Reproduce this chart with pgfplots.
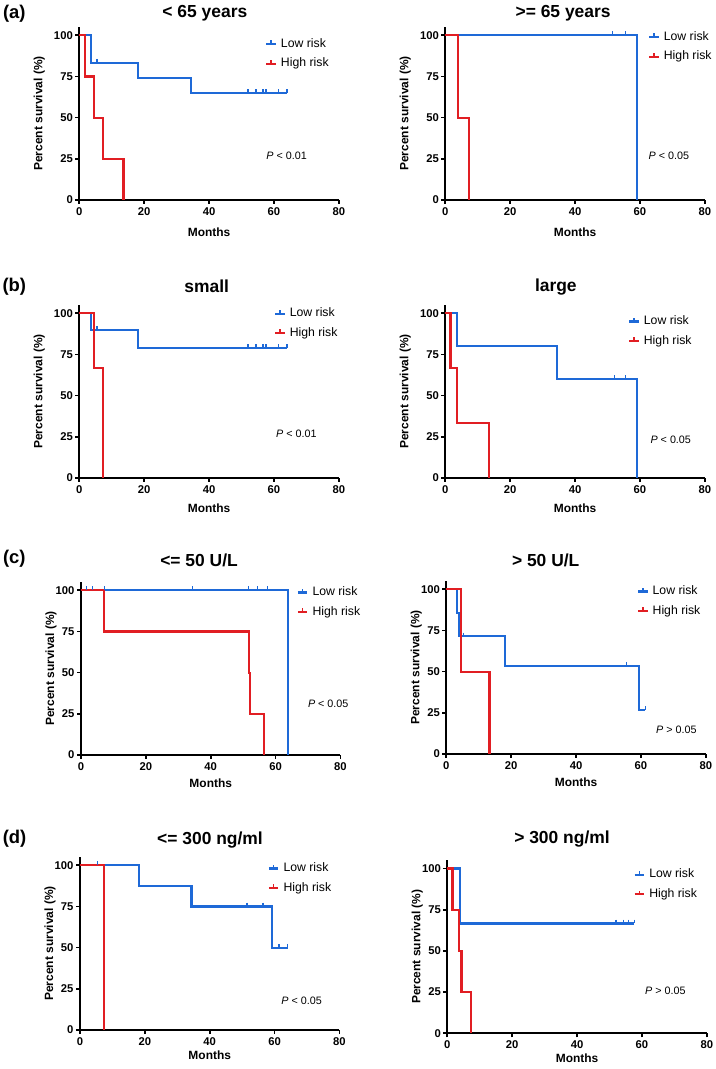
\documentclass[border=0pt]{standalone}
\usepackage{fontspec}
\setmainfont{Liberation Sans}
\usepackage{pgfplots}
\pgfplotsset{compat=1.18}
\definecolor{kmblue}{RGB}{30,105,215}
\definecolor{kmred}{RGB}{225,30,35}
\tikzset{
  ttl/.style={font=\bfseries\fontsize{17.5}{20}\selectfont},
  pval/.style={anchor=west, font=\fontsize{10.8}{12}\selectfont},
}
\pgfplotsset{
  km/.style={
    scale only axis, width=259.5bp, height=173bp,
    xmin=0, xmax=80, ymin=0, ymax=105,
    axis lines*=left,
    axis line style={line width=2bp, black, -},
    xtick={0,20,40,60,80}, ytick={0,25,50,75,100},
    tick align=outside, major tick length=4bp,
    every tick/.style={line width=1.7bp, black},
    /pgf/number format/assume math mode=true,
    ticklabel style={font=\bfseries\fontsize{11.3}{12}\selectfont},
    yticklabel style={xshift=1bp},
    xlabel={Months}, ylabel={Percent survival (\%)},
    label style={font=\bfseries\fontsize{12}{14}\selectfont},
    legend cell align=left,
    legend style={draw=none, fill=none, anchor=north west, inner sep=0pt, row sep=7.5bp, column sep=4bp,
      font=\fontsize{12.3}{14}\selectfont, nodes={inner sep=0pt, text height=9bp, text depth=3bp}},
    legend image code/.code={\draw[#1, line width=2.2bp] (0bp,0bp) -- (9.5bp,0bp); \draw[#1, line width=1.6bp] (4.75bp,0bp) -- (4.75bp,3.8bp);},
    clip=false,
  },
  curve/.style={const plot, line width=2.2bp, mark=none},
  cens/.style={only marks, mark=|, mark size=1.9bp, mark options={yshift=1.9bp, line width=1.6bp}},
}
\newcommand{\kmlegend}{\addlegendimage{kmblue}\addlegendentry{Low risk}\addlegendimage{kmred}\addlegendentry{High risk}}
\begin{document}
\begin{tikzpicture}
\useasboundingbox (0,0) rectangle (716bp,1069bp);
\node[font=\bfseries\fontsize{18.5}{20}\selectfont] at (14.3bp,1055.5bp) {(a)};
\node[font=\bfseries\fontsize{18.5}{20}\selectfont] at (14.3bp,782bp) {(b)};
\node[font=\bfseries\fontsize{18.5}{20}\selectfont] at (14.3bp,510bp) {(c)};
\node[font=\bfseries\fontsize{18.5}{20}\selectfont] at (14.6bp,230.5bp) {(d)};

% (a) left
\begin{axis}[km, at={(79.3bp,869bp)}, anchor=south west,
  xlabel style={at={(axis description cs:0.5,-0.185)}, anchor=center},
  ylabel style={at={(axis description cs:-0.154,0.5)}, anchor=center},
  legend style={at={(axis description cs:0.716,0.936)}}]
\kmlegend
\addplot[curve, kmblue, forget plot] coordinates {(0,100) (3.6,83.3) (18.2,74.07) (34.4,64.8) (64,64.8)};
\addplot[cens, kmblue, forget plot] coordinates {(5.5,83.3) (52,64.8) (54.5,64.8) (56.7,64.8) (57.5,64.8) (61.4,64.8) (64,64.8)};
\addplot[curve, kmred, forget plot] coordinates {(0,100) (1.75,75) (4.6,50) (7.3,25) (13.6,0)};
\node[ttl] at (axis description cs:0.484,1) [yshift=14bp] {< 65 years};
\node[pval] at (axis cs:56.6,26.8) {\textit{P} < 0.01};
\end{axis}

% (a) right
\begin{axis}[km, at={(445.3bp,869bp)}, anchor=south west,
  xlabel style={at={(axis description cs:0.5,-0.185)}, anchor=center},
  ylabel style={at={(axis description cs:-0.154,0.5)}, anchor=center},
  legend style={at={(axis description cs:0.781,0.977)}}]
\kmlegend
\addplot[curve, kmblue, forget plot] coordinates {(0,100) (59.2,0)};
\addplot[cens, kmblue, forget plot] coordinates {(51.6,100) (55.5,100)};
\addplot[curve, kmred, forget plot] coordinates {(0,100) (3.9,50) (7.3,0)};
\node[ttl] at (axis description cs:0.454,1) [yshift=14bp] {>= 65 years};
\node[pval] at (axis cs:61.6,27) {\textit{P} < 0.05};
\end{axis}

% (b) left
\begin{axis}[km, at={(79.3bp,591bp)}, anchor=south west,
  xlabel style={at={(axis description cs:0.5,-0.173)}, anchor=center},
  ylabel style={at={(axis description cs:-0.154,0.5)}, anchor=center},
  legend style={at={(axis description cs:0.750,0.985)}}]
\kmlegend
\addplot[curve, kmblue, forget plot] coordinates {(0,100) (3.6,90) (18.2,78.75) (64,78.75)};
\addplot[cens, kmblue, forget plot] coordinates {(5.5,90) (52,78.75) (54.5,78.75) (56.7,78.75) (57.5,78.75) (61.4,78.75) (64,78.75)};
\addplot[curve, kmred, forget plot] coordinates {(0,100) (4.5,66.7) (7.4,0)};
\node[ttl] at (axis description cs:0.491,1) [yshift=18.3bp] {small};
\node[pval] at (axis cs:59.6,27) {\textit{P} < 0.01};
\end{axis}

% (b) right
\begin{axis}[km, at={(445.3bp,591bp)}, anchor=south west,
  xlabel style={at={(axis description cs:0.5,-0.173)}, anchor=center},
  ylabel style={at={(axis description cs:-0.154,0.5)}, anchor=center},
  legend style={at={(axis description cs:0.704,0.940)}}]
\kmlegend
\addplot[curve, kmblue, forget plot] coordinates {(0,100) (3.7,80) (34.4,60) (59.2,0)};
\addplot[cens, kmblue, forget plot] coordinates {(52.2,60) (55.6,60)};
\addplot[curve, kmred, forget plot] coordinates {(0,100) (1.6,66.7) (3.7,33.3) (13.35,0)};
\node[ttl] at (axis description cs:0.426,1) [yshift=18.3bp] {large};
\node[pval] at (axis cs:62.2,23) {\textit{P} < 0.05};
\end{axis}

% (c) left
\begin{axis}[km, at={(81bp,314bp)}, anchor=south west,
  xlabel style={at={(axis description cs:0.5,-0.162)}, anchor=center},
  ylabel style={at={(axis description cs:-0.1156,0.5)}, anchor=center},
  legend style={at={(axis description cs:0.831,0.975)}}]
\kmlegend
\addplot[curve, kmblue, forget plot] coordinates {(0,100) (63.7,0)};
\addplot[cens, kmblue, forget plot] coordinates {(1.75,100) (3.6,100) (7.2,100) (34.4,100) (51.6,100) (54.4,100) (57.5,100)};
\addplot[curve, kmred, forget plot] coordinates {(0,100) (7.2,75) (51.7,50) (52.2,25) (56.5,0)};
\node[ttl] at (axis description cs:0.455,1) [yshift=22bp] {<= 50 U/L};
\node[pval] at (axis cs:68.9,31) {\textit{P} < 0.05};
\end{axis}

% (c) right
\begin{axis}[km, at={(446.3bp,315bp)}, anchor=south west,
  xlabel style={at={(axis description cs:0.5,-0.162)}, anchor=center},
  ylabel style={at={(axis description cs:-0.1156,0.5)}, anchor=center},
  legend style={at={(axis description cs:0.734,0.975)}}]
\kmlegend
\addplot[curve, kmblue, forget plot] coordinates {(0,100) (3.4,85.7) (3.8,71.4) (18,53.6) (59.3,26.8) (61.4,26.8)};
\addplot[cens, kmblue, forget plot] coordinates {(5.3,71.4) (55.5,53.6) (61.4,26.8)};
\addplot[curve, kmred, forget plot] coordinates {(0,100) (4.5,50) (13.3,0)};
\node[ttl] at (axis description cs:0.383,1) [yshift=21bp] {> 50 U/L};
\node[pval] at (axis cs:63.6,14.5) {\textit{P} > 0.05};
\end{axis}

% (d) left
\begin{axis}[km, at={(80bp,39bp)}, anchor=south west,
  xlabel style={at={(axis description cs:0.5,-0.1445)}, anchor=center},
  ylabel style={at={(axis description cs:-0.1156,0.5)}, anchor=center},
  legend style={at={(axis description cs:0.723,0.969)}}]
\kmlegend
\addplot[curve, kmblue, forget plot] coordinates {(0,100) (18.2,87.5) (34.4,75) (59.3,50) (64,50)};
\addplot[cens, kmblue, forget plot] coordinates {(5.4,100) (51.4,75) (56.5,75) (61.3,50) (64,50)};
\addplot[curve, kmred, forget plot] coordinates {(0,100) (7.3,0)};
\node[ttl] at (axis description cs:0.501,1) [yshift=17bp] {<= 300 ng/ml};
\node[pval] at (axis cs:61,17.8) {\textit{P} < 0.05};
\end{axis}

% (d) right
\begin{axis}[km, at={(447.3bp,35.7bp)}, anchor=south west,
  xlabel style={at={(axis description cs:0.5,-0.1445)}, anchor=center},
  ylabel style={at={(axis description cs:-0.1156,0.5)}, anchor=center},
  legend style={at={(axis description cs:0.717,0.952)}}]
\kmlegend
\addplot[curve, kmblue, forget plot] coordinates {(0,100) (3.9,66.7) (57.7,66.7)};
\addplot[cens, kmblue, forget plot] coordinates {(52,66.7) (54.3,66.7) (55.9,66.7) (57.7,66.7)};
\addplot[curve, kmred, forget plot] coordinates {(0,100) (1.6,75) (3.5,50) (4.4,25) (7.2,0)};
\node[ttl] at (axis description cs:0.442,1) [yshift=21.3bp] {> 300 ng/ml};
\node[pval] at (axis cs:59.9,26) {\textit{P} > 0.05};
\end{axis}
\end{tikzpicture}
\end{document}
